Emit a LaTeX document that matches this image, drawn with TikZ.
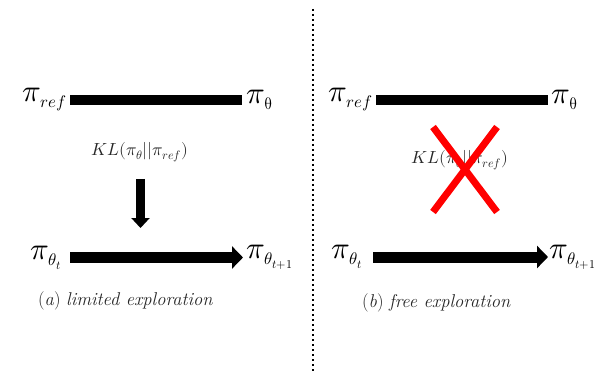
\documentclass[tikz,border=0pt]{standalone}
\usepackage{unicode-math}
\setmathfont{Latin Modern Math}
\usetikzlibrary{arrows.meta}
\newcommand{\bigpi}{\hbox{\fontsize{31}{34}\selectfont$\pi$}}
\begin{document}
\begin{tikzpicture}[x=1pt,y=-1pt,
  lbl/.style={inner sep=0pt, font=\fontsize{24}{28}\selectfont},
  kl/.style={inner sep=0pt, font=\fontsize{17.5}{20}\selectfont, text=black!85},
  capt/.style={inner sep=0pt, font=\fontsize{18.5}{22}\selectfont, text=black!85},
  bar/.style={line width=10pt},
  fat/.style={line width=11pt, -{Triangle[length=11pt,width=22pt]}},
  down/.style={line width=9pt, -{Triangle[length=10pt,width=18pt]}},
  cross/.style={line width=7pt, red},
  sep/.style={line width=2pt, dash pattern=on 2pt off 3pt}]
\useasboundingbox (0,0) rectangle (607,374);
% separator
\coordinate (s1) at (312.5,9);
\coordinate (s2) at (312.5,374);
\draw[sep] (s1) -- (s2);
% left panel
\node[lbl,anchor=east] (prefL) at (67,100) {$\bigpi_{ref}$};
\node[lbl,anchor=west] (pthL) at (246,100) {$\bigpi_{\symup{\theta}}$};
\draw[bar,shorten <=3pt,shorten >=4pt] (prefL.east) -- (pthL.west);
\node[kl] (klL) at (140,152) {$KL(\pi_{\theta}||\pi_{ref})$};
\coordinate (d1) at (140.5,179);
\coordinate (d2) at (140.5,228);
\draw[down] (d1) -- (d2);
\node[lbl,anchor=east] (ptL) at (62,257.5) {$\bigpi_{\theta_t}$};
\node[lbl,anchor=west] (ptnL) at (246,257.5) {$\bigpi_{\theta_{t+1}}$};
\draw[fat,shorten <=8pt,shorten >=3pt] (ptL.east) -- (ptnL.west);
\node[capt] (capA) at (125.5,301) {(\textit{a}) \textit{limited exploration}};
% right panel
\node[lbl,anchor=east] (prefR) at (373,100) {$\bigpi_{ref}$};
\node[lbl,anchor=west] (pthR) at (551,100) {$\bigpi_{\symup{\theta}}$};
\draw[bar,shorten <=3pt,shorten >=3pt] (prefR.east) -- (pthR.west);
\node[kl] (klR) at (460,160) {$KL(\pi_{\theta}||\pi_{ref})$};
\coordinate (x1) at (433,127);
\coordinate (x2) at (497,212);
\coordinate (x3) at (497,127);
\coordinate (x4) at (433,212);
\draw[cross] (x1) -- (x2);
\draw[cross] (x3) -- (x4);
\node[lbl,anchor=east] (ptR) at (363,257) {$\bigpi_{\theta_t}$};
\node[lbl,anchor=west] (ptnR) at (549,257) {$\bigpi_{\theta_{t+1}}$};
\draw[fat,shorten <=10pt,shorten >=1pt] (ptR.east) -- (ptnR.west);
\node[capt] (capB) at (436.5,303) {(\textit{b}) \textit{free exploration}};
\end{tikzpicture}
\end{document}
